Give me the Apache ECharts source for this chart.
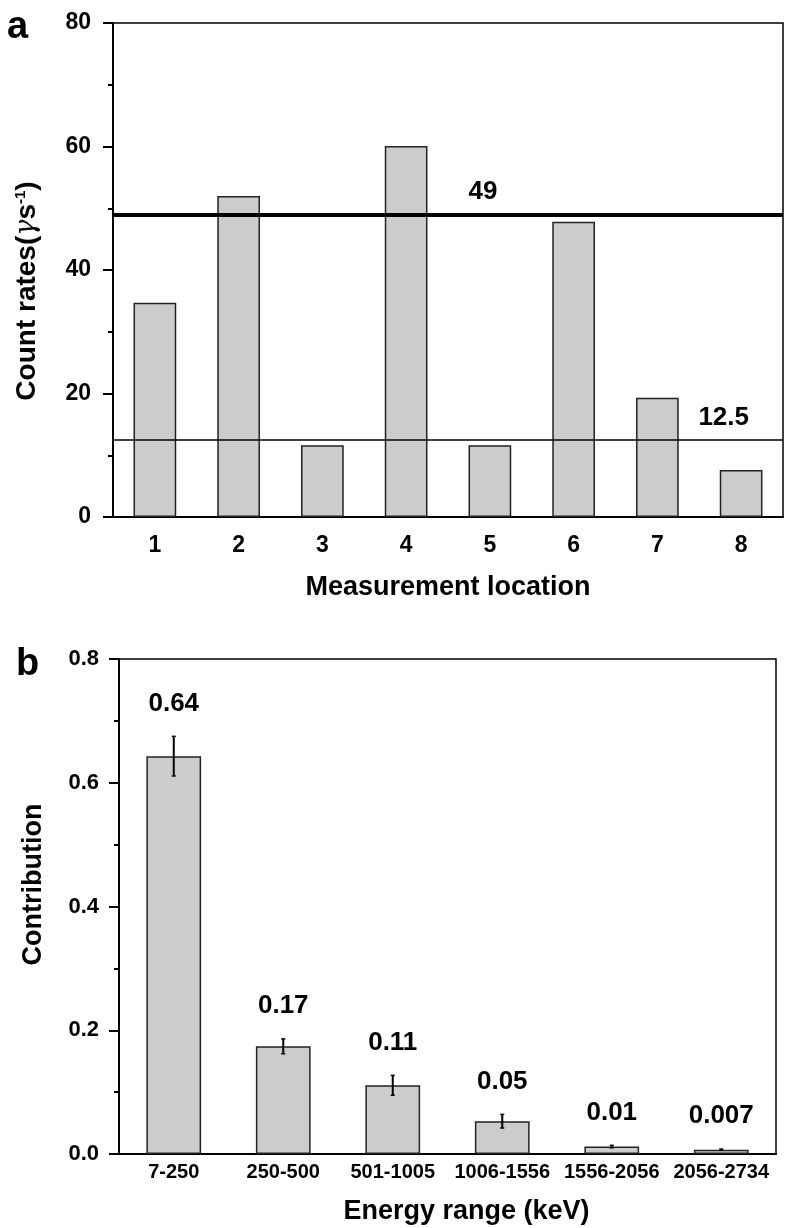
<!DOCTYPE html>
<html><head><meta charset="utf-8">
<script src="https://cdn.jsdelivr.net/npm/echarts@6/dist/echarts.min.js"></script>
<style>html,body{margin:0;padding:0;background:#fff}#c{width:786px;height:1228px}</style>
</head><body><div id="c"></div>
<script>
// ---- data ----
const locations = ['1', '2', '3', '4', '5', '6', '7', '8'];
const countRates = [34.7, 52.0, 11.6, 60.1, 11.6, 47.8, 19.3, 7.6];
const refLineValues = [49, 12.5];
const refLineLabels = ['49', '12.5'];
const countTicks = [0, 20, 40, 60, 80];

const energyRanges = ['7-250', '250-500', '501-1005', '1006-1556', '1556-2056', '2056-2734'];
const contributions = [0.643, 0.174, 0.111, 0.053, 0.012, 0.007];
const contribErrors = [0.032, 0.012, 0.016, 0.011, 0.002, 0.001];
const contribLabels = ['0.64', '0.17', '0.11', '0.05', '0.01', '0.007'];
const contribTicks = [0, 0.2, 0.4, 0.6, 0.8];

// ---- styles ----
const FONT = '"Liberation Sans", Arial, Helvetica, sans-serif';
const BLACK = '#000';
const BAR_FILL = '#cccccc';
const BAR_BORDER = '#222';

const chart = echarts.init(document.getElementById('c'), null, { renderer: 'canvas' });

function errRender(params, api) {
  const i = api.value(0), v = api.value(1), e = api.value(2);
  const top = api.coord([i, v + e]);
  const bot = api.coord([i, v - e]);
  const cap = 2;
  return {
    type: 'group',
    children: [
      { type: 'line', shape: { x1: top[0], y1: top[1], x2: bot[0], y2: bot[1] }, style: { stroke: BLACK, lineWidth: 2 } },
      { type: 'line', shape: { x1: top[0] - cap, y1: top[1], x2: top[0] + cap, y2: top[1] }, style: { stroke: BLACK, lineWidth: 1.5 } },
      { type: 'line', shape: { x1: bot[0] - cap, y1: bot[1], x2: bot[0] + cap, y2: bot[1] }, style: { stroke: BLACK, lineWidth: 1.5 } },
      { type: 'text', style: { text: contribLabels[params.dataIndex], x: top[0], y: top[1] - 33, align: 'center', verticalAlign: 'middle', fontSize: 26, fontWeight: 'bold', fontFamily: FONT, fill: BLACK } }
    ]
  };
}

const option = {
  backgroundColor: '#fff',
  animation: false,
  textStyle: { fontFamily: FONT },
  grid: [
    { left: 113, right: 3, top: 23, bottom: 711, show: true, borderColor: BLACK, borderWidth: 1.5 },
    { left: 119, right: 10, top: 659, bottom: 74, show: true, borderColor: BLACK, borderWidth: 1.5 }
  ],
  xAxis: [
    {
      gridIndex: 0, type: 'category', data: locations,
      axisLine: { lineStyle: { color: BLACK, width: 2 } },
      axisTick: { alignWithLabel: true, length: 10, lineStyle: { color: BLACK, width: 2 } },
      axisLabel: { color: BLACK, fontSize: 23, fontWeight: 'bold', fontFamily: FONT, margin: 17 },
      name: 'Measurement location', nameLocation: 'middle', nameGap: 57,
      nameTextStyle: { color: BLACK, fontSize: 27, fontWeight: 'bold', fontFamily: FONT }
    },
    {
      gridIndex: 1, type: 'category', data: energyRanges,
      axisLine: { lineStyle: { color: BLACK, width: 2 } },
      axisTick: { show: false },
      axisLabel: { color: BLACK, fontSize: 20, fontWeight: 'bold', fontFamily: FONT, margin: 8, interval: 0 },
      name: 'Energy range (keV)', nameLocation: 'middle', nameGap: 44,
      nameTextStyle: { color: BLACK, fontSize: 27, fontWeight: 'bold', fontFamily: FONT, padding: [0, 0, 0, 38] }
    }
  ],
  yAxis: [
    {
      gridIndex: 0, type: 'value', min: countTicks[0], max: countTicks[countTicks.length - 1], interval: countTicks[1] - countTicks[0],
      axisLine: { show: true, lineStyle: { color: BLACK, width: 2 } },
      axisTick: { show: true, length: 10, lineStyle: { color: BLACK, width: 2 } },
      minorTick: { show: true, splitNumber: 2, length: 5, lineStyle: { color: BLACK, width: 2 } },
      splitLine: { show: false },
      axisLabel: { color: BLACK, fontSize: 23, fontWeight: 'bold', fontFamily: FONT, margin: 22 },
      name: '{b|Count rates(}{g|γ}{b|s}{sup|-1}{b|)}', nameLocation: 'middle', nameGap: 72, nameRotate: 90,
      nameTextStyle: {
        color: BLACK, padding: [0, 42, 0, 0],
        rich: {
          b: { fontSize: 28, fontWeight: 'bold', fontFamily: FONT, color: BLACK },
          g: { fontSize: 27, fontWeight: 'normal', fontStyle: 'italic', fontFamily: '"DejaVu Serif", serif', color: BLACK },
          sup: { fontSize: 15, fontWeight: 'bold', fontFamily: FONT, color: BLACK, verticalAlign: 'top' }
        }
      }
    },
    {
      gridIndex: 1, type: 'value', min: contribTicks[0], max: contribTicks[contribTicks.length - 1], interval: contribTicks[1] - contribTicks[0],
      axisLine: { show: true, lineStyle: { color: BLACK, width: 2 } },
      axisTick: { show: true, length: 10, lineStyle: { color: BLACK, width: 2 } },
      minorTick: { show: true, splitNumber: 2, length: 5, lineStyle: { color: BLACK, width: 2 } },
      splitLine: { show: false },
      axisLabel: { color: BLACK, fontSize: 22, fontWeight: 'bold', fontFamily: FONT, margin: 20, formatter: v => v.toFixed(1) },
      name: 'Contribution', nameLocation: 'middle', nameGap: 72, nameRotate: 90,
      nameTextStyle: { color: BLACK, fontSize: 27, fontWeight: 'bold', fontFamily: FONT, padding: [0, 0, 0, 44] }
    }
  ],
  graphic: [
    { type: 'text', x: 7, y: 28, style: { text: 'a', fontSize: 38, fontWeight: 'bold', fontFamily: FONT, fill: BLACK, verticalAlign: 'middle' } },
    { type: 'text', x: 16, y: 665, style: { text: 'b', fontSize: 38, fontWeight: 'bold', fontFamily: FONT, fill: BLACK, verticalAlign: 'middle' } }
  ],
  series: [
    {
      type: 'bar', xAxisIndex: 0, yAxisIndex: 0, data: countRates, barWidth: '51%',
      itemStyle: { color: BAR_FILL, borderColor: BAR_BORDER, borderWidth: 1.5 },
      markLine: {
        silent: true, symbol: ['none', 'none'],
        data: [
          {
            yAxis: refLineValues[0],
            lineStyle: { color: BLACK, width: 4, type: 'solid' },
            label: { formatter: refLineLabels[0], position: 'insideMiddleTop', distance: 10, offset: [35, 0], color: BLACK, fontSize: 26, fontWeight: 'bold', fontFamily: FONT }
          },
          {
            yAxis: refLineValues[1],
            lineStyle: { color: BLACK, width: 1.5, type: 'solid' },
            label: { formatter: refLineLabels[1], position: 'insideEndTop', distance: 9, offset: [-25, 0], color: BLACK, fontSize: 26, fontWeight: 'bold', fontFamily: FONT }
          }
        ]
      }
    },
    {
      type: 'bar', xAxisIndex: 1, yAxisIndex: 1, data: contributions, barWidth: '50%',
      itemStyle: { color: BAR_FILL, borderColor: BAR_BORDER, borderWidth: 1.5 }
    },
    {
      type: 'custom', xAxisIndex: 1, yAxisIndex: 1,
      data: contributions.map((v, i) => [i, v, contribErrors[i]]),
      renderItem: errRender, z: 5
    }
  ]
};
chart.setOption(option);
</script>
</body></html>
